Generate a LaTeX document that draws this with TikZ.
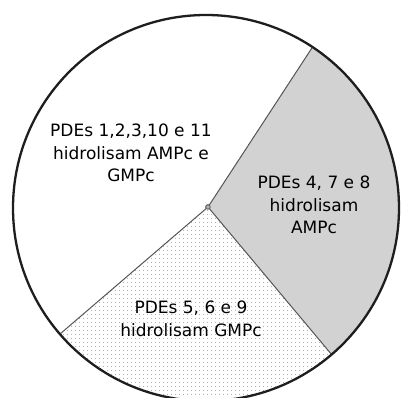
\documentclass[tikz,border=0pt]{standalone}
\usepackage{fontspec}
\setmainfont{DejaVu Sans}
\usetikzlibrary{patterns.meta}
\definecolor{sliceGray}{RGB}{210,210,210}
\definecolor{rimInk}{RGB}{30,30,30}
\definecolor{spokeInk}{RGB}{85,85,85}
\definecolor{dotInk}{RGB}{170,170,170}
\tikzset{
  rim/.style={draw=rimInk, line width=2.3pt},
  spoke/.style={draw=spokeInk, line width=1pt},
  label/.style={align=center, text=black, inner sep=0pt,
    font=\fontsize{17}{22.5}\selectfont},
  hubmark/.style={circle, draw=spokeInk, fill=gray!60, line width=0.8pt,
    minimum size=4.5pt, inner sep=0pt},
  dotted slice/.style={fill=white,
    postaction={pattern={Dots[distance=4pt,radius=0.65pt]}, pattern color=dotInk}},
  grey slice/.style={fill=sliceGray}
}
\begin{document}
\begin{tikzpicture}[x=1pt,y=1pt]
  \useasboundingbox (0,0) rectangle (401,398);
  \fill[white] (0,0) rectangle (401,398);

  % centre of the rim and hub of the slices
  \coordinate (O) at (206,190);
  \node[hubmark] (hub) at (208,191) {};

  % slice boundaries on the rim
  \path (O) ++(56.5:193) coordinate (A);
  \path (O) ++(-49.4:193) coordinate (B);
  \path (O) ++(220.8:193) coordinate (C);

  % slices
  \path[grey slice] (hub.center) -- (A) arc[start angle=56.5, end angle=-49.4, radius=193] -- cycle;
  \path[dotted slice] (hub.center) -- (B) arc[start angle=-49.4, end angle=-139.2, radius=193] -- cycle;

  % spokes
  \draw[spoke] (hub) -- (A);
  \draw[spoke] (hub) -- (B);
  \draw[spoke] (hub) -- (C);
  \node[hubmark] at (hub) {};

  % rim
  \draw[rim] (O) circle[radius=193];

  % labels
  \node[label] (amgm) at (131,245) {PDEs 1,2,3,10 e 11\\hidrolisam AMPc e\\GMPc};
  \node[label] (amp) at (314,193) {PDEs 4, 7 e 8\\hidrolisam\\AMPc};
  \node[label] (gmp) at (191,79) {PDEs 5, 6 e 9\\hidrolisam GMPc};
\end{tikzpicture}
\end{document}
